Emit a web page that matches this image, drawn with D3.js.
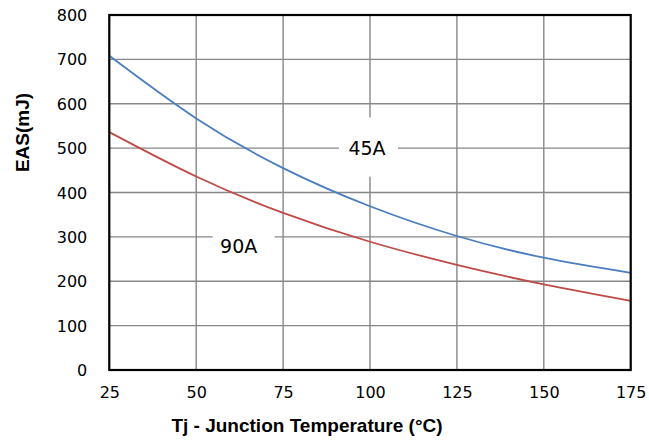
<!DOCTYPE html>
<html><head><meta charset="utf-8">
<script src="https://cdn.jsdelivr.net/npm/d3@7"></script>
<style>body{margin:0;background:#fff;}svg{display:block;}</style>
</head><body>
<svg id="c" width="649" height="443"></svg>
<script>
const temps = [25, 50, 75, 100, 125, 150, 175];
const eas45A = [708, 567, 455, 369, 302, 253, 219];
const eas90A = [536, 436, 354, 289, 237, 193, 156];
const xTicks = [25, 50, 75, 100, 125, 150, 175];
const yTicks = [0, 100, 200, 300, 400, 500, 600, 700, 800];
const seriesLabels = ["45A", "90A"];

const svg = d3.select("#c");
const L = 109.3, R = 630.7, T = 15, B = 370;
const x = d3.scaleLinear().domain([25, 175]).range([L, R]);
const y = d3.scaleLinear().domain([0, 800]).range([B, T]);

// grid
const g = svg.append("g");
g.selectAll(".vx").data(xTicks).enter().append("line")
  .attr("x1", d => x(d)).attr("x2", d => x(d)).attr("y1", T).attr("y2", B)
  .attr("stroke", "#878787").attr("stroke-width", 1.4);
g.selectAll(".hy").data(yTicks).enter().append("line")
  .attr("x1", L).attr("x2", R).attr("y1", d => y(d)).attr("y2", d => y(d))
  .attr("stroke", "#878787").attr("stroke-width", 1.4);

// lines
const line = d3.line().x(d => x(d[0])).y(d => y(d[1])).curve(d3.curveNatural);
svg.append("path").datum(temps.map((t, i) => [t, eas45A[i]]))
  .attr("d", line).attr("fill", "none").attr("stroke", "#4a7ebf").attr("stroke-width", 1.8);
svg.append("path").datum(temps.map((t, i) => [t, eas90A[i]]))
  .attr("d", line).attr("fill", "none").attr("stroke", "#be4b48").attr("stroke-width", 1.8);

// labels with white boxes
function label(txt, cx, cy, x0, x1, y0, y1) {
  svg.append("rect").attr("x", x0).attr("y", y0).attr("width", x1 - x0).attr("height", y1 - y0).attr("fill", "#fff");
  svg.append("text").attr("x", cx).attr("y", cy).attr("text-anchor", "middle").attr("dominant-baseline", "central")
    .attr("font-family", "DejaVu Sans, Verdana, sans-serif").attr("font-size", 19).attr("fill", "#000").text(txt);
}
label(seriesLabels[0], x(100) - 3, y(500), x(100) - 31, x(100) + 28, 117.3, 176.7);
label(seriesLabels[1], x(62.5) - 1, y(300) + 9, x(62.5) - 27, x(62.5) + 35, y(300) - 26, y(300) + 36);

// frame
svg.append("rect").attr("x", L).attr("y", T).attr("width", R - L).attr("height", B - T)
  .attr("fill", "none").attr("stroke", "#000").attr("stroke-width", 2.2);

// axes
const xAxis = d3.axisBottom(x).tickValues(xTicks).tickSize(0).tickPadding(0);
const xa = svg.append("g").attr("transform", `translate(0,${B})`).call(xAxis);
xa.select(".domain").remove();
xa.selectAll("text").attr("y", 22).attr("dy", "0.35em")
  .attr("font-family", "DejaVu Sans, Verdana, sans-serif").attr("font-size", 16).attr("fill", "#000");

const yAxis = d3.axisLeft(y).tickValues(yTicks).tickSize(0).tickPadding(0);
const ya = svg.append("g").attr("transform", `translate(${L},0)`).call(yAxis);
ya.select(".domain").remove();
ya.selectAll("text").attr("x", -22).attr("dy", "0.35em")
  .attr("font-family", "DejaVu Sans, Verdana, sans-serif").attr("font-size", 16).attr("fill", "#000");

// titles
svg.append("text").attr("x", 307).attr("y", 425).attr("text-anchor", "middle").attr("dominant-baseline", "central")
  .attr("font-family", "Liberation Sans, Arial, sans-serif").attr("font-weight", "bold").attr("font-size", 19)
  .text("Tj - Junction Temperature (°C)");
svg.append("text").attr("transform", "translate(22.5,132.5) rotate(-90)").attr("text-anchor", "middle").attr("dominant-baseline", "central")
  .attr("font-family", "Liberation Sans, Arial, sans-serif").attr("font-weight", "bold").attr("font-size", 19)
  .text("EAS(mJ)");
</script>
</body></html>
